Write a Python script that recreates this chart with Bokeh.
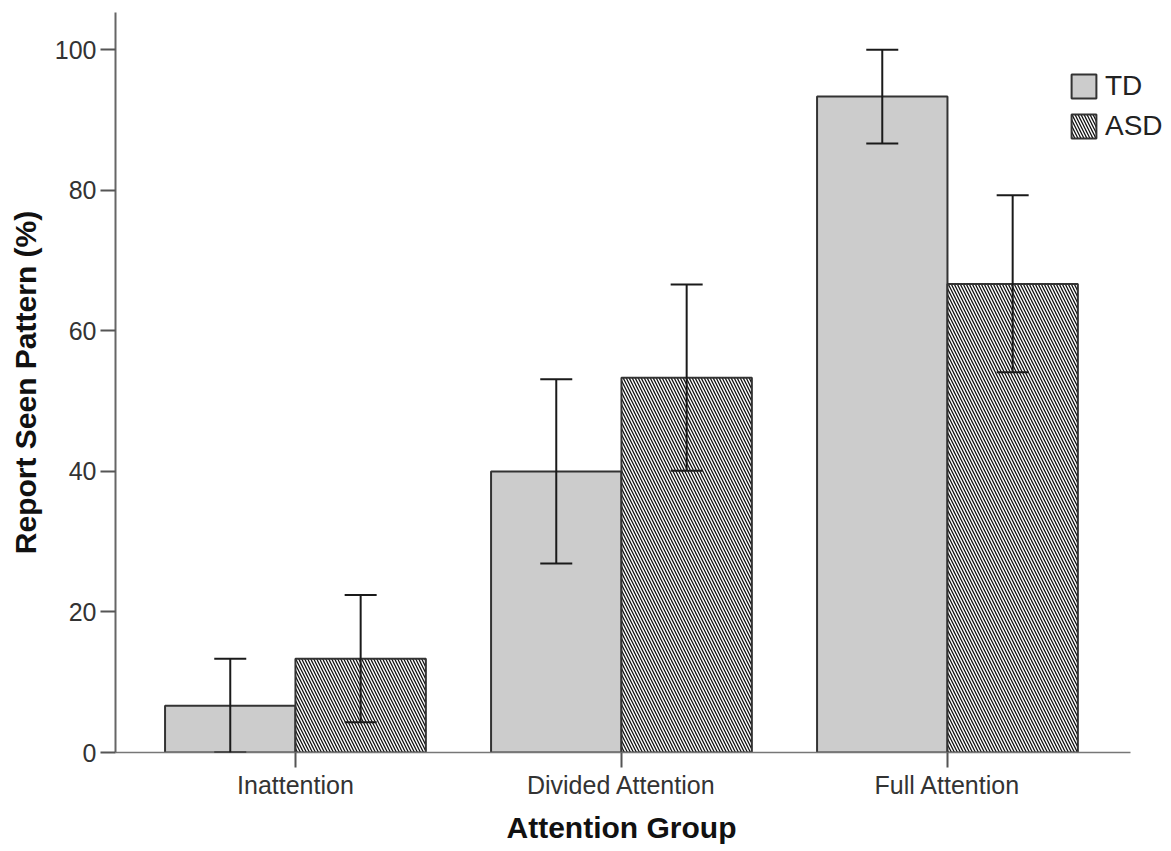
from bokeh.plotting import figure
from bokeh.models import (ColumnDataSource, Range1d, FixedTicker, Legend, LegendItem,
                          Whisker, TeeHead, Title)
from bokeh.transform import dodge
from bokeh.embed import file_html
from bokeh.resources import INLINE

groups = ["Inattention", "Divided Attention", "Full Attention"]
td_mean = [6.67, 40.0, 93.33]
td_low = [0.0, 26.9, 86.67]
td_high = [13.33, 53.1, 100.0]
asd_mean = [13.33, 53.33, 66.67]
asd_low = [4.3, 40.1, 54.1]
asd_high = [22.4, 66.6, 79.3]
y_ticks = [0, 20, 40, 60, 80, 100]

pos = list(range(len(groups)))
src = ColumnDataSource(dict(x=pos, td=td_mean, td_low=td_low, td_high=td_high,
                            asd=asd_mean, asd_low=asd_low, asd_high=asd_high))

FONT = "Liberation Sans"

p = figure(width=1170, height=850,
           x_range=Range1d(-0.552, 2.678), y_range=Range1d(0, 105.3),
           output_backend="svg", toolbar_location=None,
           min_border_left=115, min_border_right=2, min_border_top=12, min_border_bottom=98)
p.xgrid.visible = False
p.ygrid.visible = False
p.outline_line_color = None
p.background_fill_color = "white"

td_r = p.vbar(x=dodge("x", -0.2), top="td", bottom=0, width=0.4, source=src,
              fill_color="#cccccc", line_color="#333333", line_width=2)
asd_r = p.vbar(x=dodge("x", 0.2), top="asd", bottom=0, width=0.4, source=src,
               fill_color="white", line_color="#333333", line_width=2,
               hatch_pattern="\\", hatch_color="#111111", hatch_scale=6, hatch_weight=1.3)

for off, lo, hi in [(-0.2, "td_low", "td_high"), (0.2, "asd_low", "asd_high")]:
    w = Whisker(source=src, base=dodge("x", off), lower=lo, upper=hi,
                line_color="#1a1a1a", line_width=2, level="annotation",
                upper_head=TeeHead(size=32, line_width=2, line_color="#1a1a1a"),
                lower_head=TeeHead(size=32, line_width=2, line_color="#1a1a1a"))
    p.add_layout(w)

# axes
p.xaxis.ticker = FixedTicker(ticks=pos)
p.xaxis.major_label_overrides = {i: g for i, g in zip(pos, groups)}
p.xaxis.bounds = (-0.552, 2.561)
p.yaxis.ticker = FixedTicker(ticks=y_ticks)
for ax in (p.xaxis, p.yaxis):
    ax.axis_line_color = "#777777"
    ax.axis_line_width = 1.5
    ax.major_tick_line_color = "#555555"
    ax.major_tick_line_width = 2
    ax.major_tick_out = 15
    ax.major_tick_in = 0
    ax.minor_tick_line_color = None
    ax.major_label_text_font = FONT
    ax.major_label_text_font_size = "25px"
    ax.major_label_text_color = "#333333"
    ax.axis_label_text_font = FONT
    ax.axis_label_text_font_style = "bold"
    ax.axis_label_text_font_size = "30px"
    ax.axis_label_text_color = "#111111"
p.yaxis.axis_line_color = "#666666"
p.yaxis.axis_line_width = 2
p.xaxis.major_label_standoff = 3
p.yaxis.major_label_standoff = 4
p.yaxis.axis_label = "Report Seen Pattern (%)"
p.yaxis.axis_label_standoff = 10

# x-axis title, placed under the axis line (which ends before the legend)
p.add_layout(Title(text="Attention Group", align="left", offset=391, standoff=14,
                   text_font=FONT, text_font_style="bold", text_font_size="30px",
                   text_color="#111111"), "below")

legend = Legend(items=[LegendItem(label="TD", renderers=[td_r]),
                       LegendItem(label="ASD", renderers=[asd_r])],
                location=(953, 610), padding=0, margin=0, spacing=8,
                glyph_width=31, glyph_height=30, label_standoff=6, label_height=30,
                border_line_alpha=0, background_fill_alpha=0,
                label_text_font=FONT, label_text_font_size="28px",
                label_text_color="#222222")
p.add_layout(legend)

open("out.html", "w").write(file_html(p, INLINE))
